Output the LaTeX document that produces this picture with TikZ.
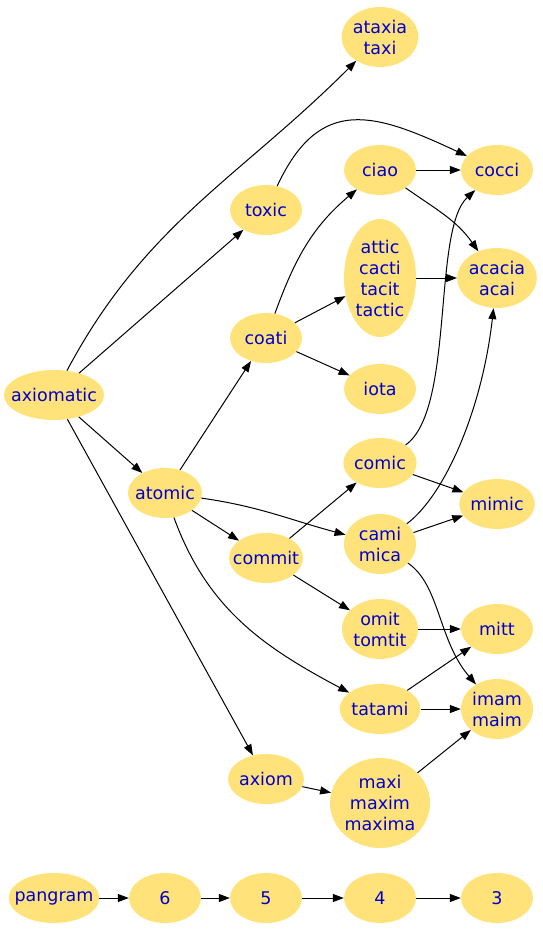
\documentclass[tikz,border=0pt]{standalone}
\usepackage{fontspec}
\setmainfont{DejaVu Sans}
\usetikzlibrary{arrows.meta, shapes.geometric}
\definecolor{wordfill}{RGB}{255,227,122}
\definecolor{wordblue}{RGB}{0,0,205}

\begin{document}
\begin{tikzpicture}[
    x=1pt, y=1pt,
    word/.style={ellipse, fill=wordfill, text=wordblue, inner sep=0pt,
                 minimum width=72pt, minimum height=50pt, align=center,
                 font=\fontsize{17.5}{21}\selectfont},
    longword/.style={word, inner xsep=-7.5pt},
    link/.style={->, line width=1pt},
    >={Triangle[length=11pt, width=8pt]}
  ]
  \useasboundingbox (0,0) rectangle (542,-929);
  % Words
  \node[word, minimum width=76pt, minimum height=60pt] (ataxia) at (380,-37) {ataxia\\taxi};
  \node[word] (ciao)   at (380,-170) {ciao};
  \node[word] (cocci)  at (497,-170) {cocci};
  \node[word] (toxic)  at (266,-210) {toxic};
  \node[word, minimum height=118pt] (attic) at (380,-278) {attic\\cacti\\tacit\\tactic};
  \node[word, minimum width=74pt, minimum height=60pt] (acacia) at (497,-278) {acacia\\acai};
  \node[word] (coati)  at (266,-338) {coati};
  \node[word] (iota)   at (380,-389) {iota};
  \node[longword, minimum width=96pt] (axiomatic) at (54,-395) {axiomatic};
  \node[word] (comic)  at (380,-463) {comic};
  \node[longword, minimum width=74pt] (atomic) at (165,-493) {atomic};
  \node[word] (mimic)  at (497,-504) {mimic};
  \node[word, minimum height=60pt] (cami) at (380,-544) {cami\\mica};
  \node[longword, minimum width=74pt] (commit) at (266,-558) {commit};
  \node[word, minimum width=76pt, minimum height=60pt] (omit) at (380,-629) {omit\\tomtit};
  \node[word] (mitt)   at (497,-629) {mitt};
  \node[word] (tatami) at (380,-709) {tatami};
  \node[word, minimum height=60pt] (imam) at (497,-709) {imam\\maim};
  \node[word] (axiom)  at (266,-779) {axiom};
  \node[word, minimum width=100pt, minimum height=90pt] (maxi) at (380,-803) {maxi\\maxim\\maxima};
  % Chain at the bottom
  \node[longword, minimum width=88pt] (pangram) at (54,-898) {pangram};
  \foreach \n/\x in {6/165, 5/266, 4/380, 3/497} {
    \node[word] (n\n) at (\x,-898) {\n};
  }
  \draw[link] (pangram) -- (n6);
  \foreach \a/\b in {6/5, 5/4, 4/3} {
    \draw[link] (n\a) -- (n\b);
  }
  % Straight links
  \foreach \a/\b in {axiomatic/toxic, axiomatic/atomic, axiomatic/axiom,
                     ciao/cocci, coati/attic, coati/iota, attic/acacia,
                     atomic/coati, atomic/commit, comic/mimic, cami/mimic,
                     commit/comic, commit/omit, omit/mitt, tatami/mitt,
                     tatami/imam, axiom/maxi, maxi/imam} {
    \draw[link] (\a) -- (\b);
  }
  % Curved links
  \draw[link] (axiomatic) to[out=62, in=-135] (ataxia);
  \draw[link] (toxic) to[out=65, in=155, looseness=1.35] (cocci);
  \draw[link] (ciao) to[out=-35, in=125] (acacia);
  \draw[link] (coati) to[out=70, in=-140] (ciao);
  \draw[link] (atomic) to[out=-8, in=165] (cami);
  \draw[link] (atomic) to[out=-70, in=152] (tatami);
  \draw[link] (comic) .. controls (455,-410) and (432,-230) .. (cocci);
  \draw[link] (cami) .. controls (445,-495) and (482,-410) .. (acacia);
  \draw[link] (cami) .. controls (440,-585) and (438,-640) .. (imam);
\end{tikzpicture}
\end{document}
